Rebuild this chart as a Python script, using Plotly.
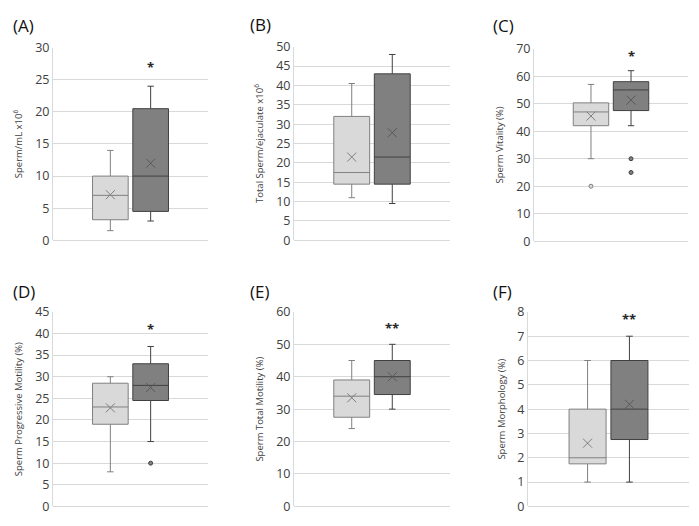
import plotly.graph_objects as go

# panel info
panels = ["(A)", "(B)", "(C)", "(D)", "(E)", "(F)"]
y_titles = [
    "Sperm/mL x10<sup>6</sup>",
    "Total Sperm/ejaculate x10<sup>6</sup>",
    "Sperm Vitality (%)",
    "Sperm Progressive Motility (%)",
    "Sperm Total Motility (%)",
    "Sperm Morphology (%)",
]
y_max = [30, 50, 70, 45, 60, 8]
y_step = [5, 5, 10, 5, 10, 1]

# group 1 (light) box statistics
g1_low = [1.5, 11, 30, 8, 24, 1]
g1_q1 = [3.2, 14.5, 42, 19, 27.5, 1.75]
g1_med = [7, 17.5, 47, 23, 34, 2]
g1_q3 = [10, 32, 50.3, 28.5, 39, 4]
g1_high = [14, 40.5, 57, 30, 45, 6]
g1_mean = [7.1, 21.5, 45.5, 22.8, 33.5, 2.6]
g1_out = [[], [], [20], [], [], []]

# group 2 (dark) box statistics
g2_low = [3, 9.5, 42, 15, 30, 1]
g2_q1 = [4.5, 14.5, 47.5, 24.5, 34.5, 2.75]
g2_med = [10, 21.5, 55, 28, 40, 4]
g2_q3 = [20.5, 43, 58, 33, 45, 6]
g2_high = [24, 48, 62, 37, 50, 7]
g2_mean = [12, 27.8, 51.3, 27.5, 40, 4.2]
g2_out = [[], [], [30, 25], [10], [], []]

# significance marks above group 2
sig_text = ["*", "", "*", "*", "**", "**"]
sig_y = [27, 0, 67.3, 41, 55, 7.7]

# plot area pixel boxes (left, right, top, bottom) in a 699x526 page
W, H = 699, 526
areas = [
    (53, 208, 40, 239), (294, 450, 39, 239), (534, 688, 41, 240),
    (53, 208, 313, 514), (294, 450, 313, 514), (528, 689, 313, 514),
]
label_pos = [(11, 17), (248, 16), (491, 17), (11, 292), (248, 292), (491, 292)]

styles = [
    dict(fill="#d9d9d9", line="#808080", mean="#7f7f7f"),
    dict(fill="#808080", line="#404040", mean="#595959"),
]

fig = go.Figure()
layout = {}
annotations = []

for i in range(6):
    n = "" if i == 0 else str(i + 1)
    xa, ya = "x" + n, "y" + n
    stats = [
        (g1_low, g1_q1, g1_med, g1_q3, g1_high, g1_mean, g1_out),
        (g2_low, g2_q1, g2_med, g2_q3, g2_high, g2_mean, g2_out),
    ]
    for g, (lo, q1, med, q3, hi, mn, out) in enumerate(stats):
        st = styles[g]
        fig.add_trace(go.Box(
            x=[g], q1=[q1[i]], median=[med[i]], q3=[q3[i]],
            lowerfence=[lo[i]], upperfence=[hi[i]],
            width=0.885, whiskerwidth=0.18,
            fillcolor=st["fill"], line=dict(color=st["line"], width=1),
            xaxis=xa, yaxis=ya, showlegend=False, hoverinfo="skip",
        ))
        fig.add_trace(go.Scatter(
            x=[g], y=[mn[i]], mode="markers",
            marker=dict(symbol="x-thin", size=9, line=dict(color=st["mean"], width=1)),
            xaxis=xa, yaxis=ya, showlegend=False, hoverinfo="skip",
        ))
        if out[i]:
            fig.add_trace(go.Scatter(
                x=[g] * len(out[i]), y=out[i], mode="markers",
                marker=dict(symbol="circle", size=4, color=st["fill"],
                            line=dict(color=st["line"], width=1)),
                xaxis=xa, yaxis=ya, showlegend=False, hoverinfo="skip",
            ))
    if sig_text[i]:
        annotations.append(dict(
            x=1, y=sig_y[i], xref=xa, yref=ya, text="<b>" + sig_text[i] + "</b>",
            showarrow=False, font=dict(size=13, color="#262626"),
        ))
    l, r, t, b = areas[i]
    layout["xaxis" + n] = dict(
        domain=[l / W, r / W], range=[-1.423, 2.423], anchor=ya,
        showticklabels=False, showgrid=False, zeroline=False, fixedrange=True,
    )
    layout["yaxis" + n] = dict(
        domain=[1 - b / H, 1 - t / H], range=[0, y_max[i]], dtick=y_step[i],
        anchor=xa, showgrid=True, gridcolor="#d9d9d9", gridwidth=1,
        zeroline=True, zerolinecolor="#d9d9d9", zerolinewidth=1,
        showline=True, linecolor="#d9d9d9", linewidth=1,
        tickfont=dict(size=12.5, color="#404040"), ticks="",
        title=dict(text=y_titles[i], font=dict(size=9.5, color="#404040"), standoff=10),
    )
    px, py = label_pos[i]
    annotations.append(dict(
        x=px / W, y=1 - py / H, xref="paper", yref="paper", text=panels[i],
        showarrow=False, xanchor="left", yanchor="middle",
        font=dict(size=17, color="#111111"),
    ))

fig.update_layout(
    width=W, height=H,
    margin=dict(l=0, r=0, t=0, b=0),
    paper_bgcolor="white", plot_bgcolor="white",
    font=dict(family="Open Sans, sans-serif"),
    annotations=annotations,
    **layout,
)

# drop the browser's default body margin so the figure sits at the page corner
fig.write_html(
    "out.html",
    config={"displayModeBar": False},
    post_script="document.body.style.margin='0px';",
)
